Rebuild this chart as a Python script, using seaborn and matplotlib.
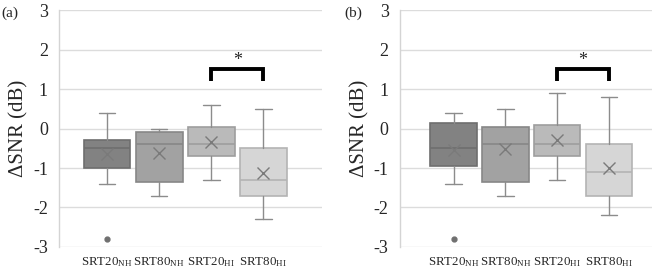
import numpy as np
import matplotlib
matplotlib.use("Agg")
import matplotlib.pyplot as plt
import seaborn as sns

# ---- data (ΔSNR in dB) ----
conditions = ["SRT20_NH", "SRT80_NH", "SRT20_HI", "SRT80_HI"]
tick_labels = [r"SRT20$_{\mathrm{NH}}$", r"SRT80$_{\mathrm{NH}}$",
               r"SRT20$_{\mathrm{HI}}$", r"SRT80$_{\mathrm{HI}}$"]

a_whislo = [-1.4, -1.7, -1.3, -2.3]
a_q1 = [-1.0, -1.35, -0.7, -1.7]
a_med = [-0.5, -0.4, -0.4, -1.3]
a_q3 = [-0.3, -0.1, 0.05, -0.5]
a_whishi = [0.4, 0.0, 0.6, 0.5]
a_mean = [-0.65, -0.62, -0.35, -1.13]
a_fliers = [[-2.8], [], [], []]

b_whislo = [-1.4, -1.7, -1.3, -2.2]
b_q1 = [-0.95, -1.35, -0.7, -1.7]
b_med = [-0.5, -0.4, -0.4, -1.1]
b_q3 = [0.15, 0.05, 0.1, -0.4]
b_whishi = [0.4, 0.5, 0.9, 0.8]
b_mean = [-0.55, -0.52, -0.3, -1.0]
b_fliers = [[-2.8], [], [], []]

sig_pair = (2, 3)
sig_y = [1.5, 1.5]

box_colors = ["#828282", "#a2a2a2", "#bababa", "#d6d6d6"]
edge_colors = ["#6e6e6e", "#878787", "#9e9e9e", "#b4b4b4"]

sns.set_style("white")
plt.rcParams["font.family"] = ["Liberation Serif", "DejaVu Serif"]
plt.rcParams["mathtext.fontset"] = "custom"
plt.rcParams["mathtext.rm"] = "Liberation Serif"
plt.rcParams["mathtext.it"] = "Liberation Serif:italic"
plt.rcParams["axes.unicode_minus"] = False


def make_stats(whislo, q1, med, q3, whishi, mean, fliers):
    stats = []
    for i in range(len(conditions)):
        stats.append(dict(label=tick_labels[i], whislo=whislo[i], q1=q1[i],
                          med=med[i], q3=q3[i], whishi=whishi[i],
                          mean=mean[i], fliers=fliers[i]))
    return stats


def draw_panel(ax, stats, letter, xlim, bracket_y):
    positions = np.arange(len(stats))
    bp = ax.bxp(stats, positions=positions, widths=0.9, patch_artist=True,
                showmeans=True, manage_ticks=False,
                meanprops=dict(marker="x", markersize=8, markeredgecolor="#7a7a7a",
                               markeredgewidth=1.0),
                flierprops=dict(marker="o", markersize=3.5, markerfacecolor="#707070",
                                markeredgecolor="#707070"),
                medianprops=dict(linewidth=1.2),
                whiskerprops=dict(linewidth=1.0), capprops=dict(linewidth=1.0))
    for i, patch in enumerate(bp["boxes"]):
        patch.set_facecolor(box_colors[i])
        patch.set_edgecolor(edge_colors[i])
        patch.set_linewidth(1.2)
        bp["medians"][i].set_color(edge_colors[i])
        for w in bp["whiskers"][2 * i:2 * i + 2]:
            w.set_color("#8c8c8c")
        for c in bp["caps"][2 * i:2 * i + 2]:
            c.set_color("#8c8c8c")
            xd = c.get_xdata()
            mid = (xd[0] + xd[1]) / 2
            c.set_xdata([mid - 0.16, mid + 0.16])

    ax.set_ylim(-3, 3)
    ax.set_yticks(range(-3, 4))
    ax.set_xlim(*xlim)
    ax.set_xticks(positions)
    ax.set_xticklabels(tick_labels, fontsize=9.3)
    ax.tick_params(axis="y", labelsize=13, length=0, pad=8)
    ax.tick_params(axis="x", length=0, pad=6)
    ax.yaxis.grid(True, color="#dcdcdc", linewidth=1.0)
    ax.set_axisbelow(True)
    for s in ["top", "right", "bottom"]:
        ax.spines[s].set_visible(False)
    ax.spines["left"].set_color("#d4d4d4")
    ax.spines["left"].set_linewidth(1.0)
    ax.set_ylabel("ΔSNR (dB)", fontsize=15, labelpad=3)

    # significance bracket
    x0, x1 = sig_pair
    ax.plot([x0, x0, x1, x1], [bracket_y[0] - 0.3, bracket_y[0], bracket_y[1], bracket_y[1] - 0.3],
            color="black", linewidth=2.8, solid_capstyle="butt", solid_joinstyle="miter")
    ax.text((x0 + x1) / 2, bracket_y[0] + 0.02, "*", ha="center", va="bottom", fontsize=13)

    ax.text(-0.22, 0.985, letter, transform=ax.transAxes, ha="left", va="center", fontsize=11)


fig = plt.figure(figsize=(6.63, 2.72), dpi=100)
ax_a = fig.add_axes([0.089, 0.092, 0.397, 0.871])
ax_b = fig.add_axes([0.603, 0.092, 0.380, 0.871])

draw_panel(ax_a, make_stats(a_whislo, a_q1, a_med, a_q3, a_whishi, a_mean, a_fliers),
           "(a)", (-0.92, 4.13), sig_y)
draw_panel(ax_b, make_stats(b_whislo, b_q1, b_med, b_q3, b_whishi, b_mean, b_fliers),
           "(b)", (-1.04, 3.83), sig_y)

fig.savefig("out.png", dpi=100)
plt.close(fig)
